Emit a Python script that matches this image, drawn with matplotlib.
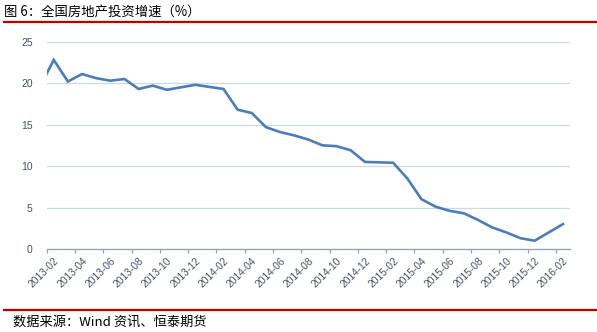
import numpy as np
import matplotlib
matplotlib.use("Agg")
import matplotlib.pyplot as plt
from matplotlib.lines import Line2D

# Categories: monthly, 2013-02 .. 2016-02 (January values are not published)
months = []
for y in (2013, 2014, 2015, 2016):
    for m in range(1, 13):
        if (y, m) < (2013, 2) or (y, m) > (2016, 2):
            continue
        months.append(f"{y}-{m:02d}")

# Cumulative YoY growth of real-estate investment (%), None = no data
growth = [22.8, 20.2, 21.1, 20.6, 20.3, 20.5, 19.3, 19.7, 19.2, 19.5, 19.8,
          None, 19.3, 16.8, 16.4, 14.7, 14.1, 13.7, 13.2, 12.5, 12.4, 11.9, 10.5,
          None, 10.4, 8.5, 6.0, 5.1, 4.6, 4.3, 3.5, 2.6, 2.0, 1.3, 1.0,
          None, 3.0]
lead_in = 19.5   # value just before the first category (line enters from the left edge)

title = "图 6：全国房地产投资增速（%）"
source = "数据来源：Wind 资讯、恒泰期货"

cjk = ["Noto Sans CJK SC", "DejaVu Sans"]
line_color = "#4A7EBB"
grid_color = "#C9D9EE"
axis_color = "#8EA2BE"
label_color = "#44546A"
red = "#C00000"

W, H = 597, 332
fig = plt.figure(figsize=(W / 100, H / 100), dpi=100)
ax = fig.add_axes([46.7 / W, 1 - 249 / H, (570 - 46.7) / W, (249 - 41.7) / H])

# connect across the missing January points, like the original
xs = [-1] + [i for i, v in enumerate(growth) if v is not None]
ys = [lead_in] + [v for v in growth if v is not None]
ax.plot(xs, ys, color=line_color, lw=1.9, solid_joinstyle="miter", zorder=3)

ax.set_xlim(-0.5, len(months) - 0.5)
ax.set_ylim(0, 25)
ax.set_yticks(np.arange(0, 26, 5))
ax.yaxis.grid(True, color=grid_color, lw=0.9)
ax.set_axisbelow(True)

for s in ("top", "right", "left"):
    ax.spines[s].set_visible(False)
ax.spines["bottom"].set_color(axis_color)
ax.spines["bottom"].set_linewidth(0.9)

label_idx = list(range(0, len(months), 2))
ax.set_xticks(label_idx)
ax.set_xticklabels([months[i] for i in label_idx], rotation=45, ha="right",
                   va="top", rotation_mode="anchor", fontsize=7.4,
                   color=label_color, family="Liberation Sans")
ax.tick_params(axis="x", which="major", length=0, pad=5)
ax.set_xticks(np.arange(-0.5, len(months) - 1, 2), minor=True)
ax.tick_params(axis="x", which="minor", length=3, width=0.9, color=axis_color)
ax.tick_params(axis="y", length=0, pad=10, labelsize=7.5, labelcolor=label_color)
for t in ax.get_yticklabels():
    t.set_family("Liberation Sans")

fig.text(4 / W, 1 - 11.5 / H, title, family=cjk, fontsize=9.6, va="center", ha="left")
fig.text(13 / W, 1 - 322.5 / H, source, family=cjk, fontsize=9.5, va="center", ha="left")
fig.add_artist(Line2D([4 / W, 1], [1 - 21.7 / H] * 2, color=red, lw=1.6,
                      transform=fig.transFigure))
fig.add_artist(Line2D([4 / W, 1], [1 - 310 / H] * 2, color=red, lw=1.6,
                      transform=fig.transFigure))

fig.savefig("out.png", dpi=100)
